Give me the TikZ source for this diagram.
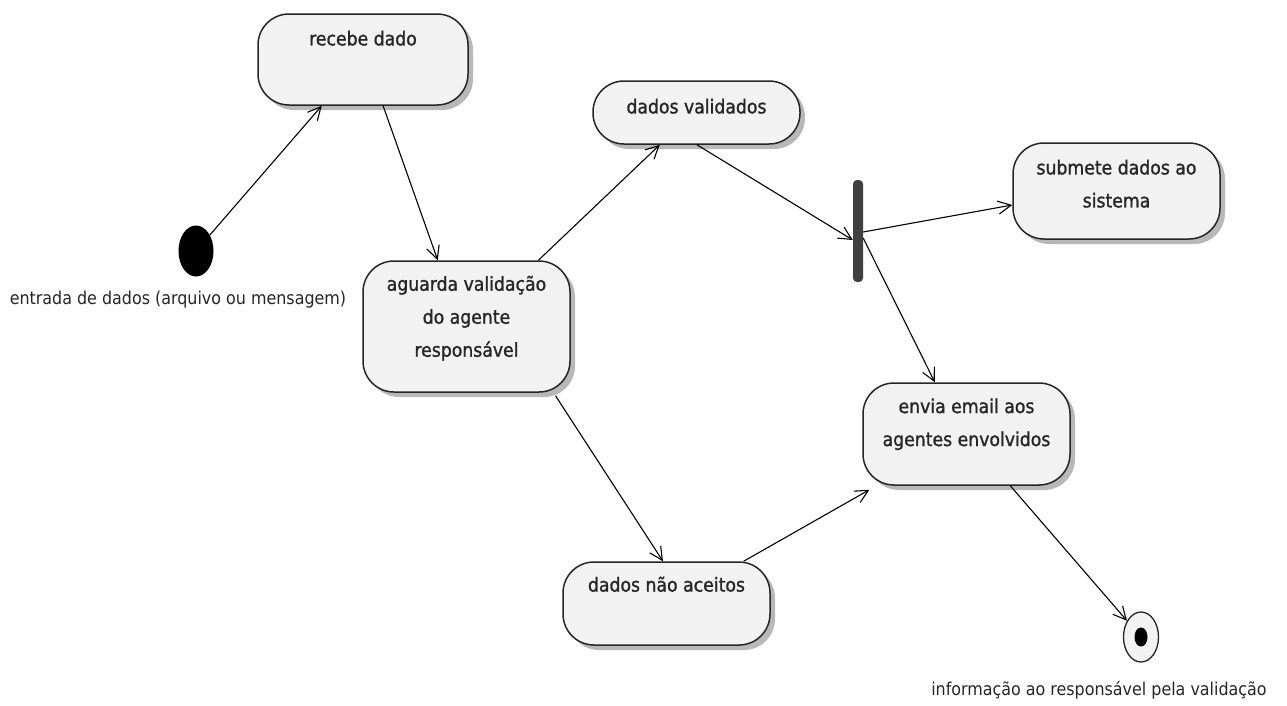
\documentclass[tikz,border=0pt]{standalone}
\usepackage{fontspec}
\setmainfont{DejaVu Sans Condensed}
\newfontfamily\actfont{DejaVu Sans Condensed}[FakeBold=1.2]
\usetikzlibrary{arrows.meta,shadows,calc,shapes.geometric}
\begin{document}
\begin{tikzpicture}[x=1pt,y=-1pt,
  act/.style={draw=black!85, line width=1.5pt, fill=black!5, rounded corners=31pt,
    inner sep=0pt,
    drop shadow={shadow xshift=5pt, shadow yshift=-5pt, fill=black!28, opacity=1}},
  txt/.style={font=\actfont\fontsize{19.2}{33}\selectfont, align=center, text=black!85, inner sep=0pt},
  lbl/.style={font=\fontsize{17.7}{20}\selectfont, text=black!85, inner sep=0pt},
  flow/.style={line width=1.1pt, -{Straight Barb[length=13pt,width=13pt,line width=1.1pt]}}
]
\path[use as bounding box] (0,0) rectangle (1287,705);

% activities
\node[act, minimum width=210pt, minimum height=91pt] (recebe) at (363,59.5) {};
\node[act, minimum width=207pt, minimum height=63pt] (validados) at (696.5,112.5) {};
\node[act, minimum width=207pt, minimum height=96pt] (submete) at (1116.5,191) {};
\node[act, minimum width=207pt, minimum height=131pt] (aguarda) at (466.5,326.5) {};
\node[act, minimum width=207pt, minimum height=102pt] (envia) at (966.5,434) {};
\node[act, minimum width=207pt, minimum height=83pt] (naoaceitos) at (666.5,603.5) {};

\node[txt] (trecebe) at ($(recebe.north)+(0,25)$) {recebe dado};
\node[txt] (tvalidados) at ($(validados.north)+(0,26)$) {dados validados};
\node[txt] (tsubmete) at ($(submete.north)+(0,41.5)$) {submete dados ao\\sistema};
\node[txt] (taguarda) at ($(aguarda.north)+(0,58)$) {aguarda validação\\do agente\\responsável};
\node[txt] (tenvia) at ($(envia.north)+(0,42)$) {envia email aos\\agentes envolvidos};
\node[txt] (tnaoaceitos) at ($(naoaceitos.north)+(0,23)$) {dados não aceitos};

% initial, final, fork
\node[ellipse, fill=black, minimum width=35pt, minimum height=51pt, inner sep=0pt] (init) at (196,251) {};
\node[lbl] (linit) at (178,300) {entrada de dados (arquivo ou mensagem)};

\node[ellipse, draw=black!85, line width=1.3pt, fill=black!5, minimum width=35pt, minimum height=50pt, inner sep=0pt] (final) at (1141,637) {};
\node[ellipse, fill=black, minimum width=13pt, minimum height=19pt, inner sep=0pt] (finaldot) at (final.center) {};
\node[lbl] (lfinal) at (1099,690) {informação ao responsável pela validação};

\node[fill=black!75, rounded corners=4pt, minimum width=10pt, minimum height=102pt, inner sep=0pt] (fork) at (858,231) {};

% flows
\draw[flow] (init) -- ($(recebe.south west)!0.305!(recebe.south east)$);
\draw[flow] ($(recebe.south west)!0.595!(recebe.south east)$) -- ($(aguarda.north west)!0.362!(aguarda.north east)$);
\draw[flow] ($(aguarda.north west)!0.845!(aguarda.north east)$) -- ($(validados.south west)!0.324!(validados.south east)$);
\draw[flow] ($(validados.south west)!0.502!(validados.south east)$) -- ($(fork.west)+(0,9)$);
\draw[flow] ($(fork.east)+(0,1)$) -- ($(submete.west)+(0,14)$);
\draw[flow] ($(fork.east)+(0,7)$) -- ($(envia.north west)!0.348!(envia.north east)$);
\draw[flow] ($(aguarda.south west)!0.927!(aguarda.south east)+(0,3)$) -- ($(naoaceitos.north west)!0.483!(naoaceitos.north east)$);
\draw[flow] ($(naoaceitos.north west)!0.87!(naoaceitos.north east)$) -- ($(envia.south west)!0.034!(envia.south east)+(0,4)$);
\draw[flow] ($(envia.south west)!0.71!(envia.south east)$) -- (final);
\end{tikzpicture}
\end{document}
